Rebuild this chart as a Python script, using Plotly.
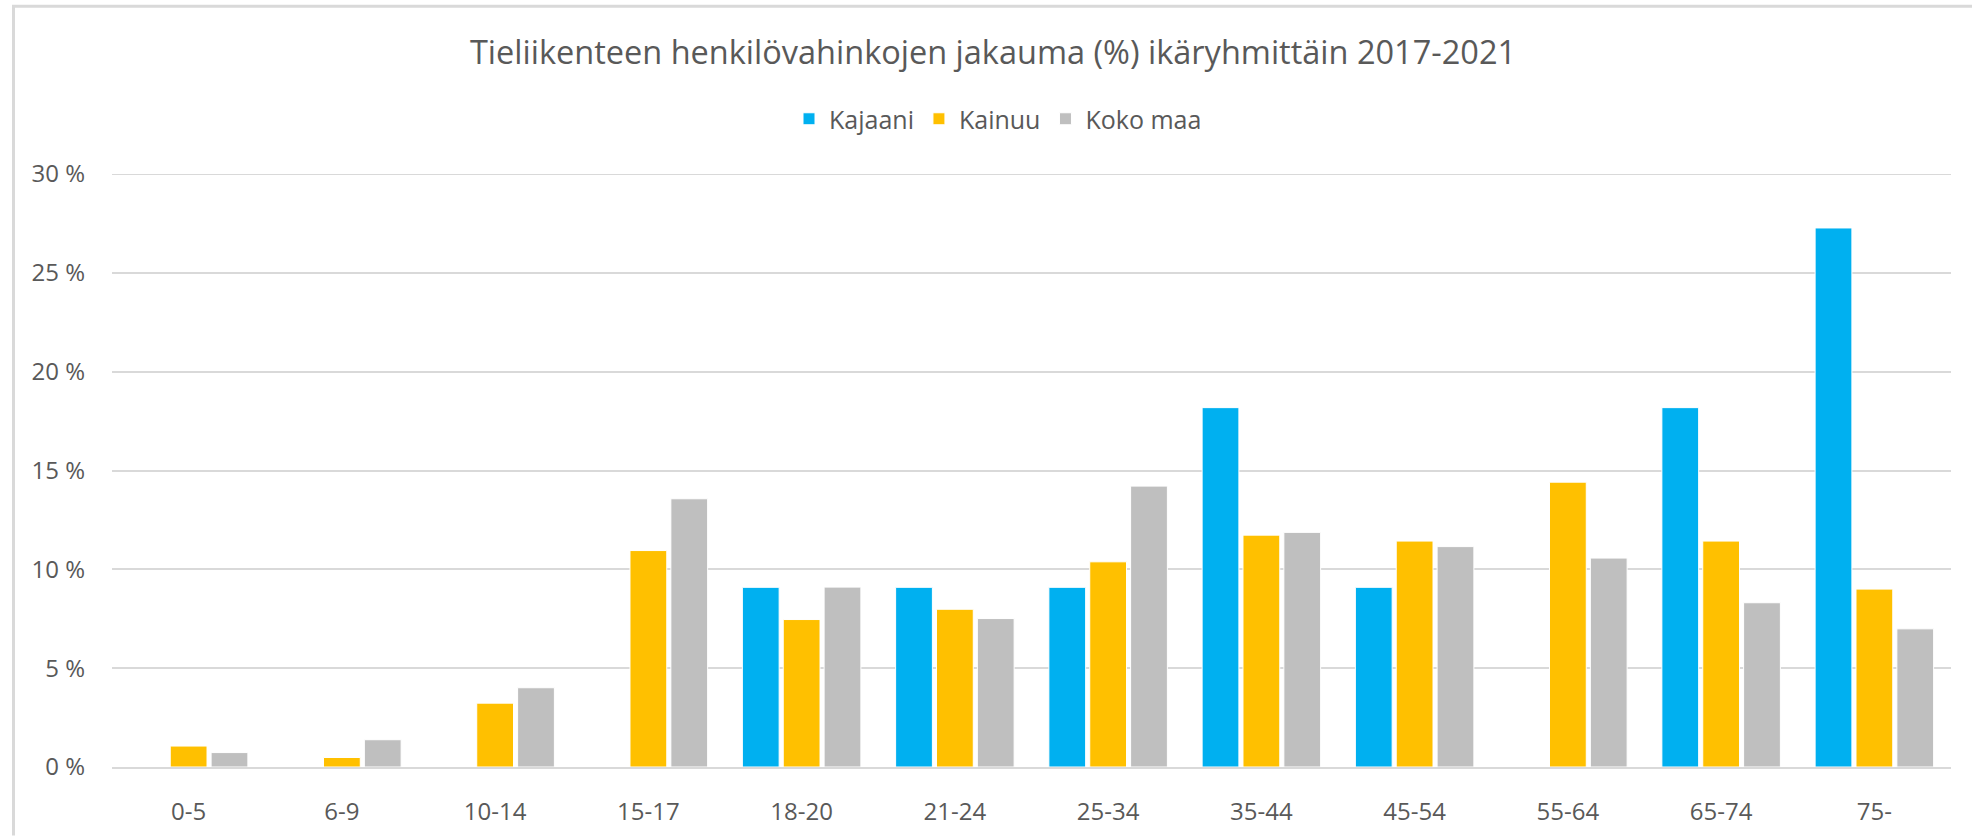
import plotly.graph_objects as go

categories = ["0-5", "6-9", "10-14", "15-17", "18-20", "21-24", "25-34", "35-44", "45-54", "55-64", "65-74", "75-"]
kajaani = [None, None, None, None, 9.09, 9.09, 9.09, 18.18, 9.09, None, 18.18, 27.27]
kainuu = [1.06, 0.48, 3.23, 10.95, 7.46, 7.98, 10.38, 11.73, 11.43, 14.41, 11.43, 9.0]
koko_maa = [0.73, 1.38, 4.01, 13.57, 9.1, 7.51, 14.21, 11.87, 11.15, 10.57, 8.31, 6.99]
y_max = 30

W, H = 1972, 836
ml, mr, mt, mb = 112, 21, 174, 68.5
FONT = "Open Sans"
TXT = "#595959"
GRID = "#D9D9D9"

fig = go.Figure()
for name, vals, col in [("Kajaani", kajaani, "#00B0F0"), ("Kainuu", kainuu, "#FFC000"), ("Koko maa", koko_maa, "#BFBFBF")]:
    fig.add_trace(go.Bar(x=categories, y=vals, name=name,
                         marker=dict(color=col, line=dict(color="white", width=1))))

pw = W - ml - mr
ph = H - mt - mb
def px_x(p):
    return (p - ml) / pw
def px_y(p):
    return (H - mb - p) / ph

fig.update_layout(
    width=W, height=H,
    margin=dict(l=ml, r=mr, t=mt, b=mb, autoexpand=False),
    paper_bgcolor="white", plot_bgcolor="white",
    font=dict(family=FONT, color=TXT, size=24),
    title=dict(text="Tieliikenteen henkilövahinkojen jakauma (%) ikäryhmittäin 2017-2021",
               x=993 / W, xanchor="center", y=1 - 53 / H, yanchor="middle",
               xref="container", yref="container",
               font=dict(family=FONT, size=32.5, color=TXT)),
    legend=dict(orientation="h", x=998 / W, xanchor="center", y=1 - 119 / H, yanchor="middle",
                xref="container", yref="container", font=dict(size=25, color=TXT),
                traceorder="normal", itemwidth=30),
    bargap=0.2, bargroupgap=0.1,
    barmode="group",
    xaxis=dict(showgrid=False, showline=True, linecolor=GRID, linewidth=2,
               ticks="", ticklabelstandoff=22, tickfont=dict(size=24, color=TXT)),
    yaxis=dict(range=[0, y_max], dtick=5, ticksuffix=" %", showgrid=True, gridcolor=GRID,
               gridwidth=2, zeroline=False, showline=False, ticks="", ticklabelstandoff=26,
               tickfont=dict(size=24, color=TXT)),
    shapes=[
        dict(type="line", xref="paper", yref="y", x0=0, x1=1, y0=y_max, y1=y_max,
             line=dict(color=GRID, width=2), layer="below"),
        dict(type="line", xref="paper", yref="paper", x0=px_x(13.5), x1=px_x(13.5), y0=px_y(5), y1=px_y(836),
             line=dict(color=GRID, width=3)),
        dict(type="line", xref="paper", yref="paper", x0=px_x(12), x1=px_x(1972), y0=px_y(6), y1=px_y(6),
             line=dict(color=GRID, width=3)),
    ],
)

fig.write_html("out.html", config={"displayModeBar": False},
               post_script="document.body.style.margin='0';")
